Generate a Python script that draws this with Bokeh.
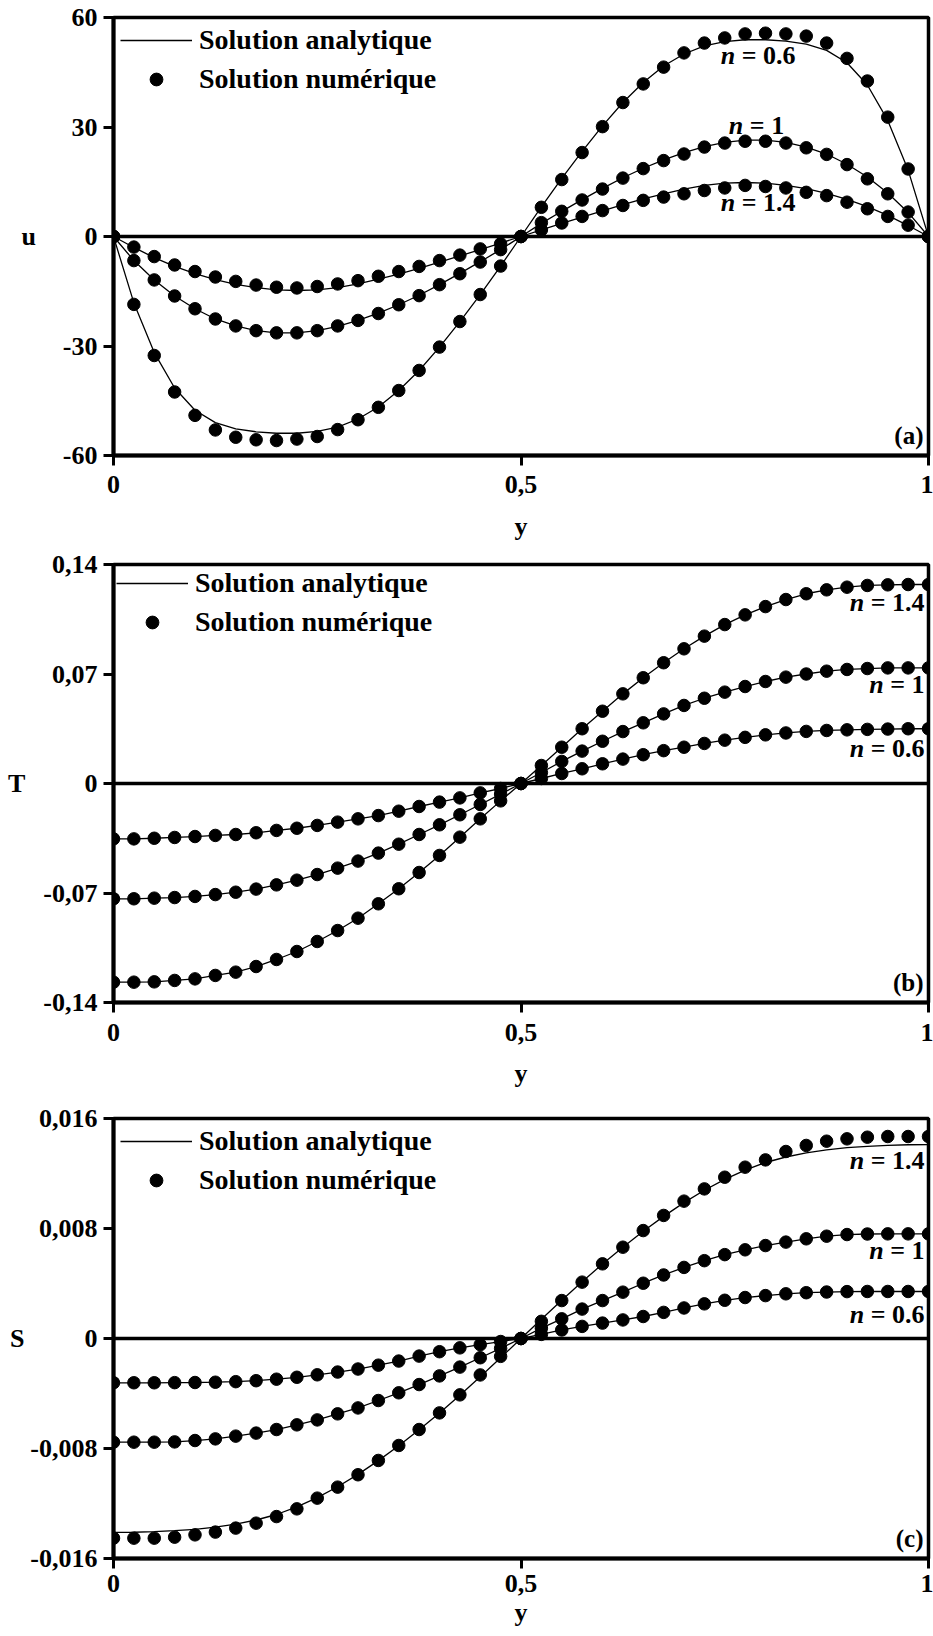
from bokeh.plotting import figure
from bokeh.models import Span, Label, Legend, LegendItem, FixedTicker
from bokeh.layouts import column
from bokeh.embed import file_html
from bokeh.resources import INLINE

FONT = "Liberation Serif"

# abscissa y (41 points)
y_grid = [0.0, 0.025, 0.05, 0.075, 0.1, 0.125, 0.15, 0.175, 0.2, 0.225,
          0.25, 0.275, 0.3, 0.325, 0.35, 0.375, 0.4, 0.425, 0.45, 0.475,
          0.5, 0.525, 0.55, 0.575, 0.6, 0.625, 0.65, 0.675, 0.7, 0.725,
          0.75, 0.775, 0.8, 0.825, 0.85, 0.875, 0.9, 0.925, 0.95, 0.975, 1.0]

x_ticks = [0, 0.5, 1]
x_tick_labels = ["0", "0,5", "1"]

# ---------------- panel (a) : u ----------------
u_ticks = [-60, -30, 0, 30, 60]
u_tick_labels = ["-60", "-30", "0", "30", "60"]

u_ana_06 = [0, -18.2, -31.8, -41.5, -47.6, -51.0, -52.7, -53.5, -53.9, -53.9,
            -53.4, -52.2, -50.0, -46.7, -42.2, -36.7, -30.3, -23.3, -15.9, -8.1,
            0, 8.1, 15.9, 23.3, 30.3, 36.7, 42.2, 46.7, 50.0, 52.2,
            53.4, 53.9, 53.9, 53.5, 52.7, 51.0, 47.6, 41.5, 31.8, 18.2, 0]
u_num_06 = [0, -18.6, -32.6, -42.6, -49.0, -53.0, -55.0, -55.7, -55.9, -55.5,
            -54.8, -52.9, -50.2, -46.8, -42.2, -36.7, -30.3, -23.3, -15.9, -8.1,
            0, 8.0, 15.6, 23.0, 30.1, 36.7, 41.8, 46.4, 50.3, 53.0,
            54.4, 55.5, 55.7, 55.5, 54.9, 53.0, 48.8, 42.6, 32.7, 18.5, 0]
u_ana_1 = [0, -6.6, -11.9, -16.3, -19.8, -22.6, -24.5, -25.8, -26.4, -26.4,
           -25.8, -24.6, -23.0, -21.0, -18.7, -16.1, -13.2, -10.1, -6.9, -3.6,
           0, 3.6, 6.9, 10.1, 13.2, 16.1, 18.7, 21.0, 23.0, 24.6,
           25.8, 26.4, 26.4, 25.8, 24.5, 22.6, 19.8, 16.3, 11.9, 6.6, 0]
u_num_1 = [0, -6.6, -11.9, -16.3, -19.8, -22.6, -24.5, -25.8, -26.4, -26.4,
           -25.8, -24.5, -23.0, -21.1, -18.7, -16.2, -13.2, -10.2, -7.0, -3.6,
           0, 3.8, 6.9, 10.0, 13.0, 16.0, 18.6, 20.8, 22.6, 24.5,
           25.6, 26.1, 26.1, 25.6, 24.3, 22.5, 19.7, 15.8, 11.7, 6.7, 0]
u_ana_14 = [0, -3.0, -5.8, -8.2, -10.2, -11.8, -13.1, -14.0, -14.6, -14.8,
            -14.6, -14.0, -13.0, -11.7, -10.3, -8.7, -7.0, -5.3, -3.6, -1.8,
            0, 1.8, 3.6, 5.3, 7.0, 8.7, 10.3, 11.7, 13.0, 14.0,
            14.6, 14.8, 14.6, 14.0, 13.1, 11.8, 10.2, 8.2, 5.8, 3.0, 0]
u_num_14 = [0, -2.9, -5.5, -7.8, -9.6, -11.1, -12.3, -13.3, -13.9, -14.1,
            -13.7, -13.0, -12.1, -10.9, -9.6, -8.2, -6.6, -5.1, -3.4, -2.0,
            0, 1.8, 3.7, 5.5, 7.1, 8.5, 9.9, 10.8, 11.7, 12.6,
            13.3, 14.0, 13.7, 13.3, 12.1, 11.2, 9.4, 7.6, 5.5, 3.1, 0]

# ---------------- panel (b) : T ----------------
T_ticks = [-0.14, -0.07, 0, 0.07, 0.14]
T_tick_labels = ["-0,14", "-0,07", "0", "0,07", "0,14"]

T_06 = [-0.0354, -0.0354, -0.0350, -0.0345, -0.0339, -0.0332, -0.0326, -0.0315, -0.0300, -0.0286,
        -0.0268, -0.0247, -0.0226, -0.0205, -0.0177, -0.0147, -0.0119, -0.0092, -0.0060, -0.0032,
        0, 0.0032, 0.0064, 0.0094, 0.0126, 0.0156, 0.0184, 0.0210, 0.0232, 0.0256,
        0.0277, 0.0295, 0.0311, 0.0323, 0.0333, 0.0339, 0.0343, 0.0346, 0.0348, 0.0350, 0.0350]
T_1 = [-0.0737, -0.0737, -0.0733, -0.0729, -0.0722, -0.0710, -0.0695, -0.0675, -0.0648, -0.0618,
       -0.0582, -0.0541, -0.0496, -0.0445, -0.0388, -0.0326, -0.0264, -0.0200, -0.0134, -0.0068,
       0, 0.0070, 0.0141, 0.0207, 0.0270, 0.0332, 0.0388, 0.0445, 0.0499, 0.0545,
       0.0584, 0.0620, 0.0652, 0.0680, 0.0700, 0.0718, 0.0729, 0.0735, 0.0739, 0.0739, 0.0739]
T_14 = [-0.1270, -0.1270, -0.1268, -0.1259, -0.1249, -0.1227, -0.1206, -0.1170, -0.1125, -0.1074,
        -0.1010, -0.0940, -0.0861, -0.0769, -0.0673, -0.0569, -0.0460, -0.0343, -0.0226, -0.0111,
        0, 0.0115, 0.0232, 0.0350, 0.0462, 0.0573, 0.0676, 0.0772, 0.0861, 0.0942,
        0.1016, 0.1078, 0.1131, 0.1176, 0.1213, 0.1238, 0.1255, 0.1266, 0.1270, 0.1272, 0.1272]

# ---------------- panel (c) : S ----------------
S_ticks = [-0.016, -0.008, 0, 0.008, 0.016]
S_tick_labels = ["-0,016", "-0,008", "0", "0,008", "0,016"]

S_06 = [-0.00322, -0.00322, -0.00322, -0.00321, -0.00320, -0.00318, -0.00314, -0.00307, -0.00296, -0.00282,
        -0.00264, -0.00244, -0.00222, -0.00194, -0.00164, -0.00128, -0.00096, -0.00068, -0.00045, -0.00022,
        0, 0.00030, 0.00062, 0.00088, 0.00112, 0.00135, 0.00160, 0.00190, 0.00222, 0.00252,
        0.00278, 0.00298, 0.00312, 0.00325, 0.00333, 0.00338, 0.00341, 0.00342, 0.00342, 0.00342, 0.00342]
S_1 = [-0.00754, -0.00754, -0.00754, -0.00752, -0.00742, -0.00730, -0.00710, -0.00688, -0.00662, -0.00628,
       -0.00592, -0.00548, -0.00505, -0.00451, -0.00395, -0.00335, -0.00272, -0.00208, -0.00140, -0.00072,
       0, 0.00075, 0.00143, 0.00214, 0.00276, 0.00337, 0.00402, 0.00462, 0.00517, 0.00566,
       0.00610, 0.00645, 0.00676, 0.00701, 0.00725, 0.00744, 0.00756, 0.00760, 0.00761, 0.00761, 0.00761]
S_ana_14 = [-0.01410, -0.01409, -0.01405, -0.01398, -0.01388, -0.01372, -0.01350, -0.01320, -0.01280, -0.01225,
            -0.01157, -0.01078, -0.00988, -0.00888, -0.00780, -0.00664, -0.00542, -0.00412, -0.00278, -0.00140,
            0, 0.00140, 0.00278, 0.00412, 0.00542, 0.00664, 0.00780, 0.00888, 0.00988, 0.01078,
            0.01157, 0.01225, 0.01280, 0.01320, 0.01350, 0.01372, 0.01388, 0.01398, 0.01405, 0.01409, 0.01410]
S_num_14 = [-0.01452, -0.01452, -0.01452, -0.01445, -0.01428, -0.01408, -0.01379, -0.01343, -0.01295, -0.01239,
            -0.01161, -0.01081, -0.00991, -0.00887, -0.00778, -0.00662, -0.00541, -0.00410, -0.00265, -0.00130,
            0, 0.00125, 0.00276, 0.00410, 0.00543, 0.00664, 0.00785, 0.00895, 0.00999, 0.01088,
            0.01173, 0.01246, 0.01299, 0.01360, 0.01404, 0.01435, 0.01452, 0.01464, 0.01469, 0.01469, 0.01469]

# widths (px) of "= 0.6"/"= 1.4"/"= 1" plus a space, at 26px bold serif
EQ_W = {"0.6": 60.3, "1.4": 60.3, "1": 40.8}
N_W = 21  # width of "n " at 26px


def build(height, top, bottom, y_range, yticks, yticklabels, ylab, ylab_standoff,
          curves, nlabels, tag, pad, x_standoff, xlab_standoff):
    p = figure(width=933, height=height, x_range=(0, 1), y_range=y_range,
               output_backend="svg", toolbar_location=None,
               min_border_left=113, min_border_right=5,
               min_border_top=top, min_border_bottom=bottom)
    p.xgrid.visible = False
    p.ygrid.visible = False
    p.background_fill_color = "white"
    p.border_fill_color = "white"
    p.outline_line_color = "black"
    p.outline_line_width = 3.5
    p.outline_line_alpha = 1.0

    p.add_layout(Span(location=0, dimension="width", line_color="black", line_width=3.5))

    first = None
    for ana, num in curves:
        lr = p.line(y_grid, ana, line_color="black", line_width=1.3)
        dr = p.scatter(y_grid, num, marker="circle", size=12.5,
                       fill_color="black", line_color="black")
        if first is None:
            first = (lr, dr)

    # axes
    p.xaxis.ticker = FixedTicker(ticks=x_ticks)
    p.xaxis.major_label_overrides = dict(zip(x_ticks, x_tick_labels))
    p.yaxis.ticker = FixedTicker(ticks=yticks)
    p.yaxis.major_label_overrides = dict(zip(yticks, yticklabels))
    for ax in (p.xaxis[0], p.yaxis[0]):
        ax.axis_line_width = 4
        ax.axis_line_color = "black"
        ax.major_tick_line_width = 3
        ax.major_tick_line_color = "black"
        ax.major_tick_out = 10
        ax.major_tick_in = 0
        ax.minor_tick_line_color = None
        ax.major_label_text_font = FONT
        ax.major_label_text_font_style = "bold"
        ax.major_label_text_font_size = "26px"
        ax.major_label_text_color = "black"
        ax.axis_label_text_font = FONT
        ax.axis_label_text_font_style = "bold"
        ax.axis_label_text_font_size = "26px"
        ax.axis_label_text_color = "black"
    p.yaxis.major_label_standoff = 6
    p.xaxis.major_label_standoff = x_standoff
    p.xaxis.axis_label = "y"
    p.xaxis.axis_label_standoff = xlab_standoff

    yax = p.yaxis[0]
    yax.axis_label = ylab
    yax.axis_label_standoff = ylab_standoff
    try:
        yax.axis_label_orientation = "horizontal"
    except Exception:
        pass

    leg = Legend(items=[LegendItem(label="Solution analytique", renderers=[first[0]]),
                        LegendItem(label="Solution numérique", renderers=[first[1]])],
                 location="top_left", orientation="vertical",
                 label_text_font=FONT, label_text_font_style="bold",
                 label_text_font_size="28px", label_text_color="black",
                 glyph_width=72, glyph_height=32, label_height=32,
                 label_standoff=7, spacing=7, padding=pad, margin=0,
                 border_line_alpha=0, background_fill_alpha=0)
    p.add_layout(leg)

    common = dict(text_font=FONT, text_font_size="26px", text_color="black",
                  text_baseline="middle")
    for num_txt, lx, ly, align in nlabels:
        if align == "left":
            p.add_layout(Label(x=lx, y=ly, text="n", text_align="left",
                               text_font_style="bold italic", **common))
            p.add_layout(Label(x=lx, y=ly, x_offset=N_W, text="= " + num_txt,
                               text_align="left", text_font_style="bold", **common))
        else:
            p.add_layout(Label(x=lx, y=ly, x_offset=-4, text="= " + num_txt,
                               text_align="right", text_font_style="bold", **common))
            p.add_layout(Label(x=lx, y=ly, x_offset=-4 - EQ_W[num_txt], text="n",
                               text_align="right", text_font_style="bold italic", **common))

    p.add_layout(Label(x=1, y=y_range[0], x_offset=-5, y_offset=7, text=tag,
                       text_align="right", text_baseline="bottom", text_color="black",
                       text_font=FONT, text_font_style="bold", text_font_size="25px"))
    return p


pa = build(548, 17, 93, (-60, 60), u_ticks, u_tick_labels, "u", 24,
           [(u_ana_06, u_num_06), (u_ana_1, u_num_1), (u_ana_14, u_num_14)],
           [("0.6", 0.745, 49.6, "left"), ("1", 0.755, 30.5, "left"), ("1.4", 0.745, 9.3, "left")],
           "(a)", 7, 10, 16)

pb = build(556, 16, 102, (-0.14, 0.14), T_ticks, T_tick_labels, "T", 15,
           [(T_06, T_06), (T_1, T_1), (T_14, T_14)],
           [("1.4", 1.0, 0.116, "right"), ("1", 1.0, 0.063, "right"), ("0.6", 1.0, 0.0224, "right")],
           "(b)", 3, 11, 15)

pc = build(532, 14, 78, (-0.016, 0.016), S_ticks, S_tick_labels, "S", 3,
           [(S_06, S_06), (S_1, S_1), (S_ana_14, S_num_14)],
           [("1.4", 1.0, 0.01295, "right"), ("1", 1.0, 0.0064, "right"), ("0.6", 1.0, 0.00178, "right")],
           "(c)", 7, 6, 3)

layout = column(pa, pb, pc, spacing=0)
open("out.html", "w").write(file_html(layout, INLINE))
